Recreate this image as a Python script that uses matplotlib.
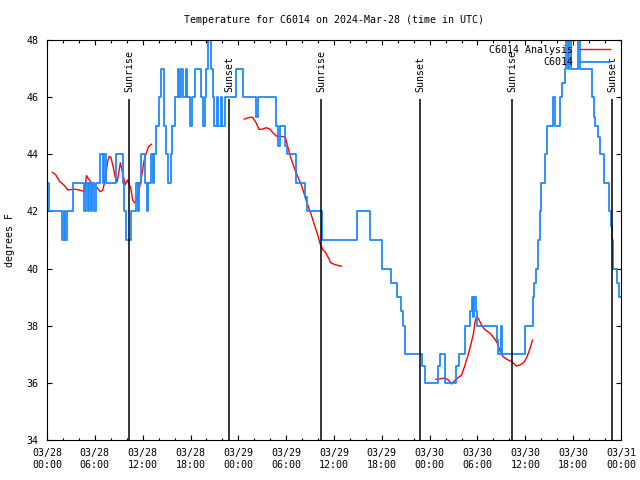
import numpy as np
import matplotlib
matplotlib.use('Agg')
import matplotlib.pyplot as plt
from matplotlib.ticker import MultipleLocator, FixedLocator

# Temperature for station C6014, time in hours since 2024-03-28 00:00 UTC
station_hours = [0.0, 0.2, 1.9, 2.1, 2.3, 2.5, 3.3, 4.7, 4.9, 5.1, 5.3, 5.5, 5.7, 5.9, 6.1,
                 6.65, 7.0, 7.2, 7.45, 8.6, 9.5, 9.7, 9.9, 10.55, 11.2, 11.4, 11.6, 11.8,
                 12.3, 12.5, 12.7, 13.1, 13.3, 13.45, 13.7, 14.0, 14.3, 14.7, 14.9, 15.2,
                 15.5, 15.7, 16.0, 16.4, 16.6, 16.8, 17.1, 17.4, 17.6, 17.9, 18.2, 18.6,
                 19.3, 19.6, 19.8, 20.0, 20.2, 20.6, 20.8, 21.0, 21.3, 21.5, 21.8, 22.0,
                 22.3, 23.7, 24.6, 26.2, 26.5, 28.7, 28.95, 29.2, 29.9, 30.1, 31.25, 32.4,
                 32.6, 34.45, 38.9, 40.5, 42.05, 43.2, 43.9, 44.4, 44.7, 44.95, 47.1, 47.4,
                 49.0, 49.25, 49.95, 51.3, 51.7, 52.4, 53.1, 53.25, 53.45, 53.6, 53.75,
                 54.0, 56.5, 56.6, 56.9, 57.1, 60.0, 60.9, 61.1, 61.3, 61.6, 61.85, 62.0,
                 62.5, 62.75, 63.5, 63.7, 64.3, 64.6, 64.95, 65.15, 65.35, 65.5, 65.7,
                 66.6, 66.85, 68.3, 68.6, 68.8, 69.1, 69.4, 69.9, 70.5, 70.75, 70.85,
                 71.0, 71.5, 71.75, 72.0]
station_temps = [43, 42, 41, 42, 41, 42, 43, 42, 43, 42, 43, 42, 43, 42, 43,
                 44, 43, 44, 43, 44, 43, 42, 41, 42, 43, 42, 43, 44,
                 43, 42, 43, 44, 43, 44, 45, 46, 47, 45, 44, 43,
                 44, 45, 46, 47, 46, 47, 46, 47, 46, 45, 46, 47,
                 46, 45, 46, 47, 48, 47, 46, 45, 46, 45, 46, 45,
                 46, 47, 46, 45.3, 46, 45, 44.3, 45, 44.3, 44, 43, 42.5,
                 42, 41, 42, 41, 40, 39.5, 39, 38.5, 38, 37, 36.6, 36,
                 36.6, 37, 36, 36.6, 37, 38, 38.5, 39, 38.3, 39, 38.5,
                 38, 37.5, 37, 38, 37, 38, 39, 39.5, 40, 41, 42, 43,
                 44, 45, 46, 45, 46, 46.5, 47, 48, 47, 48, 47,
                 48, 47, 46, 45.3, 45, 44.6, 44, 43, 42, 41.5, 41,
                 40, 39.5, 39, 39]

# Analysis series, three separate runs
analysis1_hours = [0.67, 1.1, 1.6, 2.1, 2.6, 3.4, 4.0, 4.7, 4.95, 5.3, 5.7, 6.3, 6.7, 7.0,
                   7.3, 7.6, 7.8, 8.0, 8.3, 8.55, 8.8, 9.0, 9.2, 9.5, 9.8, 10.1, 10.5,
                   10.75, 11.0, 11.2, 11.5, 11.8, 12.15, 12.4, 12.75, 13.1]
analysis1_temps = [43.37, 43.28, 43.04, 42.93, 42.75, 42.78, 42.75, 42.70, 43.25, 43.1,
                   42.95, 42.82, 42.69, 42.75, 43.1, 43.74, 43.92, 43.9, 43.57, 43.2,
                   43.04, 43.36, 43.7, 43.34, 42.93, 43.1, 42.82, 42.4, 42.3, 42.37,
                   42.7, 43.1, 43.74, 44.0, 44.27, 44.35]
analysis2_hours = [24.75, 25.25, 25.75, 26.2, 26.6, 27.0, 27.5, 27.95, 28.35, 28.8, 29.3,
                   29.9, 30.2, 30.6, 31.05, 31.45, 31.9, 32.3, 32.7, 33.15, 33.55, 34.0,
                   34.3, 34.6, 34.85, 35.2, 35.6, 36.1, 36.9]
analysis2_temps = [45.23, 45.28, 45.3, 45.12, 44.87, 44.88, 44.93, 44.88, 44.75, 44.63,
                   44.63, 44.6, 44.26, 43.86, 43.5, 43.22, 42.93, 42.58, 42.23, 41.88,
                   41.53, 41.13, 40.83, 40.66, 40.6, 40.43, 40.2, 40.14, 40.08]
analysis3_hours = [48.8, 49.3, 49.9, 50.35, 50.75, 51.2, 51.6, 52.0, 52.4, 52.85, 53.15,
                   53.5, 53.7, 53.9, 54.2, 54.5, 54.9, 55.6, 56.1, 56.5, 56.8, 57.2, 57.7,
                   58.3, 58.6, 58.9, 59.3, 59.8, 60.2, 60.6, 60.9]
analysis3_temps = [36.12, 36.14, 36.17, 36.1, 35.96, 36.1, 36.19, 36.27, 36.59, 37.01,
                   37.33, 37.73, 38.14, 38.34, 38.2, 38.03, 37.87, 37.73, 37.56, 37.38,
                   37.13, 36.92, 36.82, 36.74, 36.66, 36.59, 36.62, 36.71, 36.9, 37.21,
                   37.5]

sun_hours = [10.33, 22.87, 34.37, 46.79, 58.37, 70.9]
sun_names = ['Sunrise', 'Sunset', 'Sunrise', 'Sunset', 'Sunrise', 'Sunset']

tick_hours = [0, 6, 12, 18, 24, 30, 36, 42, 48, 54, 60, 66, 72]
tick_labels = ['03/28\n00:00', '03/28\n06:00', '03/28\n12:00', '03/28\n18:00',
               '03/29\n00:00', '03/29\n06:00', '03/29\n12:00', '03/29\n18:00',
               '03/30\n00:00', '03/30\n06:00', '03/30\n12:00', '03/30\n18:00',
               '03/31\n00:00']

plt.rcParams['font.family'] = ['DejaVu Sans Mono']
plt.rcParams['font.size'] = 7.2

fig = plt.figure(figsize=(6.4, 4.8), dpi=100)
ax = fig.add_axes([47/640, 40/480, 574/640, 400/480])

red = '#ff0000'
blue = '#1e88ff'
ax.plot(analysis1_hours, analysis1_temps, color=red, lw=1.0, label='C6014 Analysis')
ax.plot(analysis2_hours, analysis2_temps, color=red, lw=1.0)
ax.plot(analysis3_hours, analysis3_temps, color=red, lw=1.0)
ax.plot(station_hours, station_temps, color=blue, lw=1.3, drawstyle='steps-post', label='C6014')

ax.vlines(sun_hours, 34, 45.95, color='black', lw=1.1)
for h, name in zip(sun_hours, sun_names):
    ax.text(h, 46.18, name, rotation=90, ha='center', va='bottom')

ax.set_xlim(0, 72)
ax.set_ylim(34, 48)
ax.xaxis.set_major_locator(FixedLocator(tick_hours))
ax.set_xticklabels(tick_labels)
ax.xaxis.set_minor_locator(MultipleLocator(2))
ax.yaxis.set_major_locator(MultipleLocator(2))
ax.tick_params(which='both', direction='in', top=True, right=True, width=0.8)
ax.tick_params(which='major', length=3.4, pad=6)
ax.tick_params(which='minor', length=1.8)
for s in ax.spines.values():
    s.set_linewidth(0.8)

ax.set_title('Temperature for C6014 on 2024-Mar-28 (time in UTC)', fontsize=7.2, pad=12)
fig.text(10/640, 0.5, 'degrees F', rotation=90, ha='center', va='center')

ax.legend(loc='upper right', frameon=False, markerfirst=False, handlelength=3.0,
          handletextpad=0.7, labelspacing=0.25, borderaxespad=0, borderpad=0,
          bbox_to_anchor=(1 - 11/574, 1 - 5/400))

fig.savefig('out.png', dpi=100)
